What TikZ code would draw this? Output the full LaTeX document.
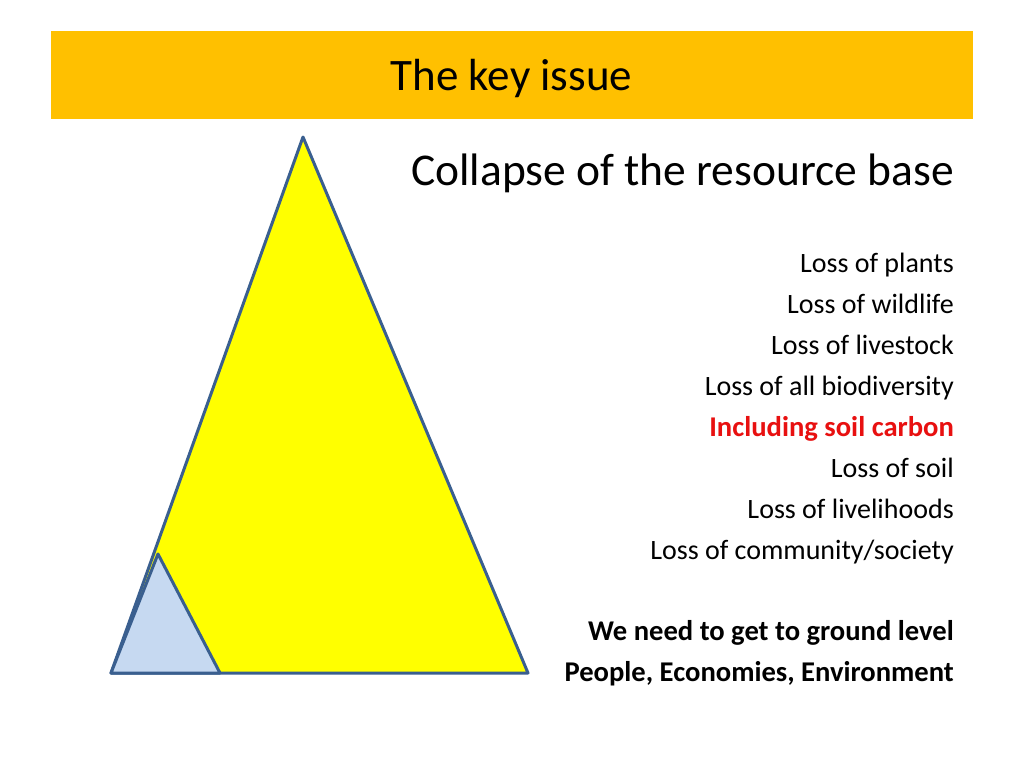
\documentclass[tikz,border=0pt]{standalone}
\usepackage{fontspec}
\setmainfont{Carlito}
\usepackage{tikz}
\usetikzlibrary{positioning}

\definecolor{barorange}{HTML}{FFC000}
\definecolor{edgeblue}{HTML}{3A5F8F}
\definecolor{paleblue}{HTML}{C6D9F1}
\definecolor{pureyellow}{HTML}{FFFF00}
\definecolor{lossred}{HTML}{E81010}

\begin{document}
\begin{tikzpicture}[x=1pt,y=-1pt]
		\tikzstyle{Bar}		= [fill=barorange, draw=none]
		\tikzstyle{Tri}		= [draw=edgeblue, line width=3pt, line join=round]
		\tikzstyle{Item}	= [anchor=base east, inner sep=0pt, font=\fontsize{28}{34}\selectfont]
		\tikzstyle{Key}		= [Item, font=\fontsize{28.6}{34}\selectfont\bfseries]

		\useasboundingbox (0,0) rectangle (1024,768);
		\fill [white] (0,0) rectangle (1024,768);

		\fill [Bar] (51,31) rectangle (973,119);
		\node (title) at (511.5,90) [anchor=base, inner sep=0pt, font=\fontsize{45}{50}\selectfont] {The key issue};

		% big triangle and the small one at its foot
		\coordinate (apex) at (303,137);
		\coordinate (bl) at (111,673);
		\coordinate (br) at (528,673);
		\coordinate (sapex) at (158,554);
		\coordinate (sr) at (220,673);
		\draw [Tri, fill=pureyellow] (apex) -- (br) -- (bl) -- cycle;
		\draw [Tri, fill=paleblue] (sapex) -- (sr) -- (bl) -- cycle;

		\node (head) at (954,185) [anchor=base east, inner sep=0pt, font=\fontsize{45.5}{50}\selectfont] {Collapse of the resource base};

		\node (l1) at (954,272) [Item] {Loss of plants};
		\node (l2) at (954,313) [Item] {Loss of wildlife};
		\node (l3) at (954,354) [Item] {Loss of livestock};
		\node (l4) at (954,395) [Item] {Loss of all biodiversity};
		\node (l5) at (954,436) [Key, text=lossred] {Including soil carbon};
		\node (l6) at (954,477) [Item] {Loss of soil};
		\node (l7) at (954,518) [Item] {Loss of livelihoods};
		\node (l8) at (954,559) [Item] {Loss of community/society};

		\node (k1) at (954,640) [Key] {We need to get to ground level};
		\node (k2) at (954,681) [Key] {People, Economies, Environment};
	\end{tikzpicture}
\end{document}
